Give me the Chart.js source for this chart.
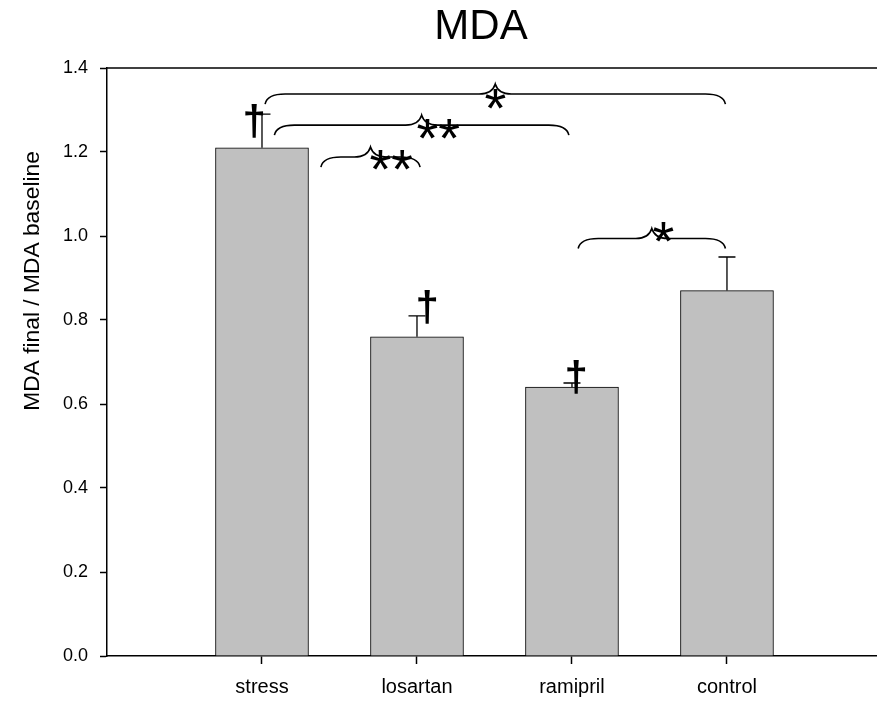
<!DOCTYPE html>
<html>
<head>
<meta charset="utf-8">
<title>MDA</title>
<script src="https://cdn.jsdelivr.net/npm/chart.js@4.4.0/dist/chart.umd.min.js"></script>
<style>
  html, body { margin: 0; padding: 0; background: #fff; }
  #wrap { width: 877px; height: 702px; }
</style>
</head>
<body>
<div id="wrap"><canvas id="chart" width="877" height="702"></canvas></div>
<script>
// Groups and their MDA final / baseline ratios (mean and upper error)
const groups = ['stress', 'losartan', 'ramipril', 'control'];
const meanRatio = [1.21, 0.76, 0.64, 0.87];
const errorUp = [0.08, 0.05, 0.01, 0.08];
const yTickValues = [0.0, 0.2, 0.4, 0.6, 0.8, 1.0, 1.2, 1.4];

// Significance braces: span on the group axis (1 = stress ... 4 = control), level and mark
const braceFrom = [1.02, 1.08, 1.38, 3.04];
const braceTo = [3.99, 2.98, 2.02, 3.99];
const braceLevel = [1.338, 1.264, 1.188, 0.994];
const braceMark = ['*', '**', '**', '*'];
const braceMarkX = [2.503, 2.135, 1.832, 3.587];
const braceMarkY = [1.327, 1.254, 1.180, 1.010];

// Dagger marks near the bars
const daggerX = [0.948, 2.065, 3.026];
const daggerY = [1.275, 0.832, 0.664];

const FONT = '"Liberation Sans", Arial, Helvetica, sans-serif';

function inkText(ctx, str, cx, cy) {
  const m = ctx.measureText(str);
  ctx.textAlign = 'left';
  ctx.textBaseline = 'alphabetic';
  const x = cx - (m.actualBoundingBoxRight - m.actualBoundingBoxLeft) / 2;
  const y = cy - (m.actualBoundingBoxDescent - m.actualBoundingBoxAscent) / 2;
  ctx.fillText(str, x, y);
}

function drawBrace(ctx, x1, x2, y) {
  const xm = (x1 + x2) / 2;
  const d = 10;      // drop of the ends / rise of the tip
  const r = Math.min(20, (xm - x1) * 0.45);
  const rt = Math.min(16, (xm - x1) * 0.35);
  ctx.beginPath();
  ctx.moveTo(x1, y + d);
  ctx.quadraticCurveTo(x1 + 2, y, x1 + r, y);
  ctx.lineTo(xm - rt, y);
  ctx.quadraticCurveTo(xm - 3, y, xm, y - d);
  ctx.quadraticCurveTo(xm + 3, y, xm + rt, y);
  ctx.lineTo(x2 - r, y);
  ctx.quadraticCurveTo(x2 - 2, y, x2, y + d);
  ctx.stroke();
}

const annotations = {
  id: 'annotations',
  afterDatasetsDraw(chart) {
    const ctx = chart.ctx;
    const xs = chart.scales.x, ys = chart.scales.y;
    const area = chart.chartArea;
    ctx.save();
    ctx.strokeStyle = '#000';
    ctx.fillStyle = '#000';

    // upper frame line
    ctx.lineWidth = 1.5;
    ctx.beginPath();
    ctx.moveTo(area.left, area.top);
    ctx.lineTo(area.right, area.top);
    ctx.stroke();

    // error bars (upper only)
    ctx.lineWidth = 1.3;
    meanRatio.forEach((m, i) => {
      const x = xs.getPixelForValue(i + 1);
      const y0 = ys.getPixelForValue(m);
      const y1 = ys.getPixelForValue(m + errorUp[i]);
      ctx.beginPath();
      ctx.moveTo(x, y0);
      ctx.lineTo(x, y1);
      ctx.moveTo(x - 8.5, y1);
      ctx.lineTo(x + 8.5, y1);
      ctx.stroke();
    });

    // braces with significance marks
    ctx.lineWidth = 1.6;
    braceFrom.forEach((f, i) => {
      drawBrace(ctx, xs.getPixelForValue(f), xs.getPixelForValue(braceTo[i]), ys.getPixelForValue(braceLevel[i]));
    });
    ctx.font = '56px ' + FONT;
    braceMark.forEach((s, i) => {
      inkText(ctx, s, xs.getPixelForValue(braceMarkX[i]), ys.getPixelForValue(braceMarkY[i]));
    });

    // daggers
    ctx.font = 'bold 42px ' + FONT;
    daggerX.forEach((dx, i) => {
      inkText(ctx, '\u2020', xs.getPixelForValue(dx), ys.getPixelForValue(daggerY[i]));
    });

    // title
    ctx.font = '42px ' + FONT;
    ctx.textAlign = 'center';
    ctx.textBaseline = 'middle';
    ctx.fillText('MDA', 481, 27);

    // y axis title
    ctx.translate(33, 281);
    ctx.rotate(-Math.PI / 2);
    ctx.font = '22.8px ' + FONT;
    ctx.fillText('MDA final / MDA baseline', 0, 0);
    ctx.restore();
  }
};

new Chart(document.getElementById('chart'), {
  type: 'bar',
  data: {
    datasets: [{
      data: groups.map((g, i) => ({ x: i + 1, y: meanRatio[i] })),
      backgroundColor: '#c0c0c0',
      borderColor: '#000',
      borderWidth: 1,
      barThickness: 93
    }]
  },
  options: {
    responsive: false,
    animation: false,
    layout: { padding: { top: 68, right: 0, left: 0, bottom: 0 } },
    plugins: { legend: { display: false }, tooltip: { enabled: false }, title: { display: false } },
    scales: {
      x: {
        type: 'linear',
        min: 0,
        max: 4.968,
        offset: false,
        afterBuildTicks: (axis) => { axis.ticks = groups.map((g, i) => ({ value: i + 1 })); },
        afterFit: (s) => { s.height = 46; },
        ticks: {
          callback: (v) => groups[v - 1],
          color: '#000',
          font: { family: FONT, size: 20 },
          padding: 11,
          maxRotation: 0,
          autoSkip: false
        },
        grid: { offset: false, drawOnChartArea: false, tickLength: 8, tickColor: '#000', tickWidth: 1.5 },
        border: { display: true, color: '#000', width: 1.5 }
      },
      y: {
        min: 0,
        max: 1.4,
        afterBuildTicks: (axis) => { axis.ticks = yTickValues.map(v => ({ value: v })); },
        afterFit: (s) => { s.width = 107; },
        ticks: {
          callback: (v) => v.toFixed(1),
          color: '#000',
          font: { family: FONT, size: 18 },
          padding: 12
        },
        grid: { drawOnChartArea: false, tickLength: 7, tickColor: '#000', tickWidth: 1.5 },
        border: { display: true, color: '#000', width: 1.5 }
      }
    }
  },
  plugins: [annotations]
});
</script>
</body>
</html>
